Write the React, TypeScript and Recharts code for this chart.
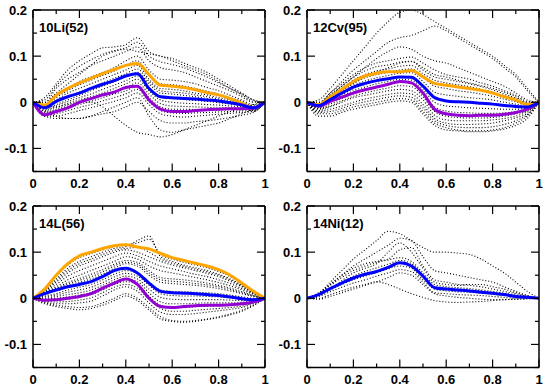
import React from "react";
import { LineChart, Line, XAxis, YAxis } from "recharts";

// x positions of the sampled profiles
const XS = [0, 0.05, 0.1, 0.15, 0.2, 0.25, 0.3, 0.35, 0.4, 0.45, 0.5, 0.55, 0.6, 0.65, 0.7, 0.75, 0.8, 0.85, 0.9, 0.95, 1];
const X_TICKS = [0, 0.1, 0.2, 0.3, 0.4, 0.5, 0.6, 0.7, 0.8, 0.9, 1];
const Y_TICKS = [-0.15, -0.1, -0.05, 0, 0.05, 0.1, 0.15, 0.2];

// ---- Panel 1: 10Li(52)
const LI_TITLE = "10Li(52)";
const LI_ORANGE = [0, -0.006, 0.015, 0.03, 0.042, 0.052, 0.062, 0.071, 0.08, 0.084, 0.06, 0.037, 0.035, 0.032, 0.027, 0.021, 0.016, 0.008, -0.002, -0.012, 0];
const LI_BLUE = [0, -0.012, 0.002, 0.012, 0.02, 0.03, 0.039, 0.047, 0.057, 0.062, 0.03, 0.012, 0.01, 0.008, 0.007, 0.005, 0.003, -0.001, -0.006, -0.012, 0];
const LI_PURPLE = [0, -0.027, -0.02, -0.012, 0.0, 0.008, 0.016, 0.022, 0.032, 0.035, 0.005, -0.015, -0.02, -0.02, -0.018, -0.016, -0.015, -0.014, -0.014, -0.013, 0];
const LI_DOTS = [
  [0, 0.01, 0.04, 0.07, 0.09, 0.105, 0.118, 0.12, 0.125, 0.14, 0.11, 0.1, 0.095, 0.085, 0.075, 0.065, 0.05, 0.035, 0.02, 0.005, 0],
  [0, 0.0, 0.02, 0.04, 0.06, 0.08, 0.1, 0.11, 0.115, 0.11, 0.105, 0.1, 0.09, 0.08, 0.07, 0.06, 0.045, 0.03, 0.018, 0.005, 0],
  [0, 0.005, 0.035, 0.06, 0.078, 0.092, 0.104, 0.112, 0.118, 0.13, 0.1, 0.088, 0.082, 0.075, 0.065, 0.055, 0.042, 0.03, 0.016, 0.002, 0],
  [0, 0.0, 0.03, 0.05, 0.065, 0.08, 0.09, 0.1, 0.11, 0.12, 0.09, 0.075, 0.07, 0.065, 0.055, 0.045, 0.035, 0.025, 0.012, 0.0, 0],
  [0, -0.005, 0.015, 0.03, 0.045, 0.055, 0.065, 0.075, 0.09, 0.1, 0.07, 0.05, 0.048, 0.045, 0.04, 0.032, 0.025, 0.015, 0.005, -0.005, 0],
  [0, -0.008, 0.01, 0.025, 0.038, 0.048, 0.058, 0.068, 0.08, 0.09, 0.06, 0.04, 0.038, 0.035, 0.03, 0.024, 0.018, 0.01, 0.002, -0.008, 0],
  [0, -0.01, 0.005, 0.02, 0.03, 0.04, 0.05, 0.06, 0.07, 0.08, 0.05, 0.03, 0.028, 0.025, 0.02, 0.016, 0.01, 0.005, -0.002, -0.01, 0],
  [0, -0.012, 0.0, 0.012, 0.022, 0.032, 0.042, 0.052, 0.062, 0.072, 0.045, 0.025, 0.022, 0.02, 0.016, 0.012, 0.007, 0.002, -0.004, -0.011, 0],
  [0, -0.015, -0.005, 0.005, 0.015, 0.025, 0.035, 0.045, 0.055, 0.065, 0.04, 0.02, 0.018, 0.015, 0.012, 0.008, 0.004, 0.0, -0.005, -0.012, 0],
  [0, -0.018, -0.008, 0.001, 0.01, 0.018, 0.028, 0.037, 0.047, 0.057, 0.032, 0.012, 0.009, 0.006, 0.004, 0.002, -0.001, -0.004, -0.008, -0.013, 0],
  [0, -0.02, -0.012, -0.003, 0.005, 0.012, 0.02, 0.03, 0.04, 0.05, 0.025, 0.005, 0.0, -0.002, -0.003, -0.005, -0.006, -0.008, -0.01, -0.015, 0],
  [0, -0.022, -0.016, -0.008, 0.0, 0.007, 0.015, 0.024, 0.032, 0.042, 0.018, -0.003, -0.008, -0.009, -0.01, -0.011, -0.012, -0.012, -0.013, -0.016, 0],
  [0, -0.025, -0.02, -0.012, -0.005, 0.002, 0.01, 0.018, 0.025, 0.035, 0.01, -0.01, -0.015, -0.015, -0.016, -0.017, -0.017, -0.016, -0.016, -0.018, 0],
  [0, -0.028, -0.025, -0.018, -0.011, -0.005, 0.003, 0.01, 0.018, 0.028, 0.002, -0.018, -0.023, -0.024, -0.023, -0.022, -0.021, -0.02, -0.019, -0.019, 0],
  [0, -0.03, -0.03, -0.025, -0.018, -0.012, -0.005, 0.002, 0.01, 0.02, -0.005, -0.025, -0.03, -0.032, -0.03, -0.028, -0.026, -0.024, -0.022, -0.02, 0],
  [0, -0.03, -0.035, -0.035, -0.035, -0.03, -0.025, -0.02, -0.01, 0.0, -0.02, -0.04, -0.045, -0.045, -0.042, -0.04, -0.037, -0.033, -0.028, -0.022, 0],
  [0, -0.01, -0.01, -0.005, 0.0, 0.0, -0.01, -0.03, -0.05, -0.065, -0.07, -0.075, -0.07, -0.06, -0.05, -0.04, -0.03, -0.02, -0.012, -0.005, 0],
  [0, -0.02, -0.03, -0.035, -0.035, -0.03, -0.02, -0.01, 0.0, 0.01, -0.03, -0.06, -0.065, -0.06, -0.055, -0.05, -0.045, -0.035, -0.025, -0.015, 0],
];

// ---- Panel 2: 12Cv(95)
const CV_TITLE = "12Cv(95)";
const CV_ORANGE = [0, -0.005, 0.012, 0.028, 0.045, 0.057, 0.063, 0.066, 0.066, 0.069, 0.055, 0.041, 0.037, 0.033, 0.03, 0.026, 0.02, 0.012, 0.005, -0.005, 0];
const CV_BLUE = [0, -0.007, 0.006, 0.02, 0.033, 0.041, 0.047, 0.051, 0.055, 0.054, 0.035, 0.01, 0.003, 0.001, 0.0, -0.002, -0.004, -0.007, -0.009, -0.01, 0];
const CV_PURPLE = [0, -0.008, 0.002, 0.011, 0.02, 0.027, 0.033, 0.039, 0.045, 0.042, 0.02, -0.015, -0.025, -0.028, -0.029, -0.028, -0.028, -0.026, -0.022, -0.015, 0];
const CV_DOTS = [
  [0, 0.005, 0.03, 0.06, 0.09, 0.12, 0.15, 0.175, 0.195, 0.2, 0.19, 0.175, 0.16, 0.145, 0.13, 0.115, 0.1, 0.08, 0.06, 0.03, 0],
  [0, 0.0, 0.02, 0.045, 0.07, 0.09, 0.11, 0.13, 0.14, 0.145, 0.155, 0.165, 0.155, 0.14, 0.125, 0.11, 0.095, 0.075, 0.055, 0.025, 0],
  [0, 0.0, 0.015, 0.035, 0.055, 0.075, 0.095, 0.11, 0.12, 0.115, 0.1, 0.09, 0.085, 0.075, 0.065, 0.055, 0.045, 0.035, 0.02, 0.005, 0],
  [0, -0.005, 0.02, 0.04, 0.06, 0.075, 0.085, 0.09, 0.095, 0.098, 0.085, 0.07, 0.06, 0.055, 0.05, 0.042, 0.035, 0.025, 0.015, 0.002, 0],
  [0, -0.006, 0.016, 0.035, 0.054, 0.068, 0.077, 0.081, 0.087, 0.089, 0.07, 0.055, 0.05, 0.045, 0.04, 0.034, 0.027, 0.018, 0.009, -0.002, 0],
  [0, -0.01, 0.01, 0.025, 0.04, 0.055, 0.065, 0.075, 0.085, 0.088, 0.075, 0.06, 0.055, 0.048, 0.042, 0.036, 0.03, 0.022, 0.012, 0.0, 0],
  [0, -0.008, 0.012, 0.03, 0.048, 0.06, 0.068, 0.072, 0.078, 0.08, 0.062, 0.048, 0.042, 0.038, 0.034, 0.028, 0.022, 0.014, 0.006, -0.004, 0],
  [0, -0.009, 0.008, 0.025, 0.042, 0.053, 0.06, 0.065, 0.07, 0.072, 0.055, 0.035, 0.03, 0.025, 0.022, 0.018, 0.013, 0.007, 0.001, -0.006, 0],
  [0, -0.01, 0.005, 0.02, 0.036, 0.046, 0.053, 0.058, 0.063, 0.064, 0.045, 0.022, 0.016, 0.013, 0.01, 0.008, 0.005, 0.0, -0.004, -0.008, 0],
  [0, -0.011, 0.003, 0.016, 0.03, 0.039, 0.046, 0.051, 0.056, 0.056, 0.036, 0.011, 0.004, 0.001, -0.001, -0.002, -0.004, -0.007, -0.009, -0.01, 0],
  [0, -0.012, 0.0, 0.012, 0.025, 0.033, 0.04, 0.045, 0.05, 0.048, 0.028, 0.0, -0.008, -0.01, -0.012, -0.013, -0.014, -0.015, -0.015, -0.012, 0],
  [0, -0.014, -0.004, 0.008, 0.019, 0.027, 0.033, 0.038, 0.043, 0.041, 0.02, -0.01, -0.019, -0.022, -0.023, -0.024, -0.024, -0.023, -0.02, -0.015, 0],
  [0, -0.015, -0.008, 0.003, 0.013, 0.02, 0.026, 0.031, 0.036, 0.034, 0.012, -0.02, -0.03, -0.033, -0.034, -0.034, -0.033, -0.03, -0.025, -0.018, 0],
  [0, -0.018, -0.01, 0.0, 0.01, 0.015, 0.02, 0.025, 0.028, 0.025, 0.005, -0.028, -0.038, -0.04, -0.04, -0.04, -0.038, -0.035, -0.03, -0.02, 0],
  [0, -0.02, -0.015, -0.008, 0.0, 0.007, 0.012, 0.017, 0.02, 0.018, -0.005, -0.035, -0.045, -0.048, -0.048, -0.047, -0.045, -0.04, -0.034, -0.024, 0],
  [0, -0.022, -0.02, -0.013, -0.005, 0.001, 0.006, 0.011, 0.014, 0.011, -0.012, -0.04, -0.05, -0.054, -0.055, -0.055, -0.053, -0.048, -0.04, -0.027, 0],
  [0, -0.025, -0.025, -0.018, -0.01, -0.005, 0.0, 0.005, 0.008, 0.005, -0.02, -0.045, -0.055, -0.06, -0.062, -0.062, -0.06, -0.055, -0.045, -0.03, 0],
  [0, -0.03, -0.03, -0.022, -0.015, -0.01, -0.005, 0.0, 0.003, 0.0, -0.025, -0.05, -0.06, -0.062, -0.064, -0.064, -0.062, -0.058, -0.05, -0.035, 0],
];

// ---- Panel 3: 14L(56)
const L_TITLE = "14L(56)";
const L_ORANGE = [0, 0.02, 0.05, 0.075, 0.092, 0.1, 0.108, 0.114, 0.116, 0.111, 0.107, 0.097, 0.088, 0.082, 0.076, 0.07, 0.062, 0.05, 0.033, 0.015, 0];
const L_BLUE = [0, 0.01, 0.018, 0.025, 0.03, 0.036, 0.047, 0.06, 0.065, 0.055, 0.033, 0.015, 0.012, 0.011, 0.01, 0.008, 0.006, 0.003, -0.001, -0.003, 0];
const L_PURPLE = [0, -0.004, -0.003, 0.0, 0.004, 0.01, 0.022, 0.033, 0.042, 0.03, 0.0, -0.018, -0.02, -0.018, -0.016, -0.015, -0.015, -0.014, -0.012, -0.008, 0];
const L_DOTS = [
  [0, 0.02, 0.048, 0.072, 0.088, 0.097, 0.105, 0.112, 0.115, 0.12, 0.128, 0.095, 0.085, 0.078, 0.072, 0.066, 0.058, 0.047, 0.031, 0.014, 0],
  [0, 0.018, 0.042, 0.065, 0.08, 0.09, 0.1, 0.108, 0.112, 0.125, 0.135, 0.09, 0.08, 0.072, 0.066, 0.06, 0.052, 0.042, 0.028, 0.012, 0],
  [0, 0.016, 0.038, 0.06, 0.075, 0.085, 0.095, 0.104, 0.108, 0.11, 0.1, 0.085, 0.076, 0.069, 0.063, 0.057, 0.05, 0.04, 0.027, 0.012, 0],
  [0, 0.015, 0.035, 0.055, 0.07, 0.08, 0.09, 0.1, 0.105, 0.1, 0.09, 0.08, 0.072, 0.066, 0.06, 0.054, 0.047, 0.037, 0.025, 0.011, 0],
  [0, 0.013, 0.03, 0.048, 0.06, 0.07, 0.08, 0.09, 0.098, 0.092, 0.08, 0.07, 0.064, 0.058, 0.052, 0.047, 0.04, 0.032, 0.021, 0.01, 0],
  [0, 0.012, 0.025, 0.04, 0.05, 0.06, 0.07, 0.08, 0.09, 0.085, 0.07, 0.06, 0.055, 0.05, 0.045, 0.04, 0.034, 0.027, 0.018, 0.008, 0],
  [0, 0.01, 0.022, 0.034, 0.043, 0.052, 0.062, 0.074, 0.082, 0.078, 0.06, 0.045, 0.042, 0.04, 0.037, 0.033, 0.028, 0.022, 0.014, 0.006, 0],
  [0, 0.009, 0.02, 0.031, 0.039, 0.047, 0.057, 0.07, 0.078, 0.074, 0.055, 0.04, 0.037, 0.035, 0.032, 0.029, 0.025, 0.019, 0.012, 0.005, 0],
  [0, 0.008, 0.018, 0.028, 0.035, 0.042, 0.052, 0.065, 0.075, 0.07, 0.05, 0.035, 0.032, 0.03, 0.028, 0.025, 0.021, 0.016, 0.01, 0.004, 0],
  [0, 0.005, 0.01, 0.018, 0.024, 0.03, 0.04, 0.052, 0.06, 0.055, 0.035, 0.018, 0.015, 0.014, 0.013, 0.012, 0.01, 0.007, 0.003, 0.0, 0],
  [0, 0.003, 0.007, 0.013, 0.018, 0.024, 0.034, 0.046, 0.054, 0.048, 0.028, 0.01, 0.006, 0.005, 0.005, 0.004, 0.003, 0.001, -0.001, -0.002, 0],
  [0, 0.0, 0.004, 0.008, 0.012, 0.018, 0.028, 0.04, 0.048, 0.042, 0.02, 0.002, -0.002, -0.003, -0.003, -0.003, -0.003, -0.004, -0.005, -0.003, 0],
  [0, -0.002, 0.0, 0.003, 0.007, 0.013, 0.023, 0.035, 0.042, 0.036, 0.012, -0.008, -0.012, -0.012, -0.011, -0.01, -0.01, -0.01, -0.009, -0.005, 0],
  [0, -0.004, -0.004, -0.002, 0.002, 0.008, 0.018, 0.03, 0.036, 0.03, 0.005, -0.015, -0.02, -0.02, -0.018, -0.017, -0.016, -0.015, -0.013, -0.008, 0],
  [0, -0.006, -0.008, -0.007, -0.004, 0.001, 0.012, 0.024, 0.03, 0.022, -0.002, -0.022, -0.028, -0.028, -0.026, -0.024, -0.022, -0.02, -0.017, -0.01, 0],
  [0, -0.008, -0.012, -0.012, -0.01, -0.006, 0.005, 0.018, 0.025, 0.015, -0.01, -0.03, -0.035, -0.035, -0.033, -0.03, -0.027, -0.024, -0.02, -0.012, 0],
  [0, -0.01, -0.015, -0.018, -0.02, -0.018, -0.01, 0.0, 0.01, 0.0, -0.02, -0.04, -0.048, -0.05, -0.048, -0.045, -0.04, -0.034, -0.026, -0.015, 0],
  [0, -0.012, -0.018, -0.022, -0.025, -0.022, -0.015, -0.005, 0.005, -0.005, -0.025, -0.045, -0.05, -0.052, -0.05, -0.046, -0.042, -0.036, -0.028, -0.016, 0],
];

// ---- Panel 4: 14Ni(12)
const NI_TITLE = "14Ni(12)";
const NI_BLUE = [0, 0.008, 0.021, 0.033, 0.044, 0.052, 0.058, 0.067, 0.077, 0.07, 0.048, 0.023, 0.02, 0.018, 0.016, 0.013, 0.011, 0.008, 0.004, 0.002, 0];
const NI_DOTS = [
  [0, 0.01, 0.035, 0.06, 0.085, 0.105, 0.125, 0.145, 0.14, 0.125, 0.11, 0.1, 0.1, 0.098, 0.095, 0.085, 0.07, 0.055, 0.035, 0.015, 0],
  [0, 0.01, 0.03, 0.05, 0.07, 0.085, 0.1, 0.115, 0.13, 0.125, 0.09, 0.06, 0.055, 0.05, 0.045, 0.04, 0.035, 0.025, 0.015, 0.006, 0],
  [0, 0.005, 0.02, 0.038, 0.055, 0.065, 0.075, 0.1, 0.12, 0.1, 0.065, 0.035, 0.03, 0.028, 0.03, 0.03, 0.025, 0.02, 0.012, 0.005, 0],
  [0, 0.012, 0.03, 0.05, 0.065, 0.075, 0.08, 0.085, 0.105, 0.11, 0.07, 0.04, 0.035, 0.03, 0.028, 0.025, 0.02, 0.015, 0.01, 0.004, 0],
  [0, 0.01, 0.028, 0.045, 0.06, 0.07, 0.078, 0.083, 0.088, 0.08, 0.055, 0.03, 0.025, 0.023, 0.021, 0.018, 0.015, 0.011, 0.007, 0.003, 0],
  [0, 0.008, 0.022, 0.035, 0.048, 0.058, 0.066, 0.074, 0.082, 0.075, 0.05, 0.025, 0.022, 0.02, 0.018, 0.016, 0.012, 0.009, 0.005, 0.002, 0],
  [0, 0.006, 0.018, 0.03, 0.04, 0.048, 0.056, 0.064, 0.07, 0.065, 0.04, 0.02, 0.016, 0.014, 0.013, 0.011, 0.009, 0.006, 0.003, 0.001, 0],
  [0, 0.004, 0.014, 0.024, 0.033, 0.04, 0.048, 0.055, 0.062, 0.058, 0.035, 0.012, 0.01, 0.008, 0.007, 0.006, 0.004, 0.002, 0.0, 0.0, 0],
  [0, -0.002, 0.004, 0.012, 0.02, 0.028, 0.035, 0.045, 0.055, 0.05, 0.03, 0.01, 0.005, 0.002, 0.0, -0.002, -0.003, -0.003, -0.002, -0.001, 0],
  [0, 0.0, 0.008, 0.016, 0.024, 0.03, 0.036, 0.03, 0.02, 0.01, 0.002, -0.005, -0.008, -0.009, -0.008, -0.007, -0.005, -0.003, -0.002, -0.001, 0],
];

const FONT: React.CSSProperties = {
  fontFamily: "'Liberation Sans', Arial, Helvetica, sans-serif",
  fontWeight: "bold",
  fontSize: 13,
  fill: "#000",
};

const fmtX = (v: number) => {
  const r = Math.round(v * 10) / 10;
  return r === 0 ? "0" : r === 1 ? "1" : r.toFixed(1);
};
const fmtY = (v: number) => {
  const r = Math.round(v * 10) / 10;
  return r === 0 ? "0" : r.toFixed(1);
};

const BottomTick = (p: any) => {
  const { x, y, payload } = p;
  const v = payload.value;
  const major = Math.round(v * 10) % 2 === 0;
  return (
    <g>
      <line x1={x} x2={x} y1={y} y2={y - (major ? 8 : 4)} stroke="#000" strokeWidth={1.2} />
      {major && (
        <text x={x} y={y + 16} textAnchor="middle" style={FONT}>
          {fmtX(v)}
        </text>
      )}
    </g>
  );
};
const TopTick = (p: any) => {
  const { x, y, payload } = p;
  const major = Math.round(payload.value * 10) % 2 === 0;
  return <line x1={x} x2={x} y1={y} y2={y + (major ? 8 : 4)} stroke="#000" strokeWidth={1.2} />;
};
const LeftTick = (p: any) => {
  const { x, y, payload } = p;
  const v = payload.value;
  const major = Math.abs(Math.round(v * 100)) % 10 === 0;
  return (
    <g>
      <line x1={x} x2={x + (major ? 8 : 4)} y1={y} y2={y} stroke="#000" strokeWidth={1.2} />
      {major && (
        <text x={x - 6} y={y + 5} textAnchor="end" style={FONT}>
          {fmtY(v)}
        </text>
      )}
    </g>
  );
};
const RightTick = (p: any) => {
  const { x, y, payload } = p;
  const major = Math.abs(Math.round(payload.value * 100)) % 10 === 0;
  return <line x1={x} x2={x - (major ? 8 : 4)} y1={y} y2={y} stroke="#000" strokeWidth={1.2} />;
};

type PanelProps = {
  title: string;
  dots: number[][];
  orange?: number[];
  blue: number[];
  purple?: number[];
  height: number;
  left: number;
  top: number;
};

const AXIS_LINE = { stroke: "#000", strokeWidth: 1.5 };

const Panel = ({ title, dots, orange, blue, purple, height, left, top }: PanelProps) => {
  const data = XS.map((x, i) => {
    const row: any = { x };
    dots.forEach((d, j) => {
      row["d" + j] = d[i];
    });
    if (orange) row.orange = orange[i];
    row.blue = blue[i];
    if (purple) row.purple = purple[i];
    return row;
  });
  const bottomH = height - 171.5;
  return (
    <div style={{ position: "absolute", left, top, width: 274, height }}>
      <LineChart width={274} height={height} data={data} margin={{ top: 0, left: 0, right: 0, bottom: 0 }}>
        <XAxis
          dataKey="x"
          type="number"
          domain={[0, 1]}
          ticks={X_TICKS}
          interval={0}
          height={bottomH}
          tickSize={0}
          tickMargin={0}
          tickLine={false}
          axisLine={AXIS_LINE}
          tick={<BottomTick />}
          allowDataOverflow
        />
        <XAxis
          xAxisId="top"
          orientation="top"
          dataKey="x"
          type="number"
          domain={[0, 1]}
          ticks={X_TICKS}
          interval={0}
          height={10}
          tickSize={0}
          tickMargin={0}
          tickLine={false}
          axisLine={AXIS_LINE}
          tick={<TopTick />}
          allowDataOverflow
        />
        <YAxis
          type="number"
          domain={[-0.15, 0.2]}
          ticks={Y_TICKS}
          interval={0}
          width={33}
          tickSize={0}
          tickMargin={0}
          tickLine={false}
          axisLine={AXIS_LINE}
          tick={<LeftTick />}
          allowDataOverflow
        />
        <YAxis
          yAxisId="right"
          orientation="right"
          type="number"
          domain={[-0.15, 0.2]}
          ticks={Y_TICKS}
          interval={0}
          width={9}
          tickSize={0}
          tickMargin={0}
          tickLine={false}
          axisLine={AXIS_LINE}
          tick={<RightTick />}
          allowDataOverflow
        />
        {dots.map((_, j) => (
          <Line
            key={"d" + j}
            dataKey={"d" + j}
            type="monotone"
            stroke="#000"
            strokeWidth={1.1}
            strokeDasharray="1 2"
            dot={false}
            isAnimationActive={false}
          />
        ))}
        {orange && (
          <Line dataKey="orange" type="monotone" stroke="#FFA500" strokeWidth={3} dot={false} isAnimationActive={false} />
        )}
        {purple && (
          <Line dataKey="purple" type="monotone" stroke="#9400D3" strokeWidth={3} dot={false} isAnimationActive={false} />
        )}
        <Line dataKey="blue" type="monotone" stroke="#0000FF" strokeWidth={3} dot={false} isAnimationActive={false} />
      </LineChart>
      <svg width={274} height={height} style={{ position: "absolute", left: 0, top: 0, pointerEvents: "none" }}>
        <text x={39} y={31.5} style={FONT}>
          {title}
        </text>
      </svg>
    </div>
  );
};

export default function App() {
  return (
    <div style={{ position: "absolute", left: 0, top: 0, width: 548, height: 391, background: "#fff" }}>
      <Panel title={LI_TITLE} dots={LI_DOTS} orange={LI_ORANGE} blue={LI_BLUE} purple={LI_PURPLE} height={196} left={0} top={0} />
      <Panel title={CV_TITLE} dots={CV_DOTS} orange={CV_ORANGE} blue={CV_BLUE} purple={CV_PURPLE} height={196} left={274} top={0} />
      <Panel title={L_TITLE} dots={L_DOTS} orange={L_ORANGE} blue={L_BLUE} purple={L_PURPLE} height={195} left={0} top={196} />
      <Panel title={NI_TITLE} dots={NI_DOTS} blue={NI_BLUE} height={195} left={274} top={196} />
    </div>
  );
}
